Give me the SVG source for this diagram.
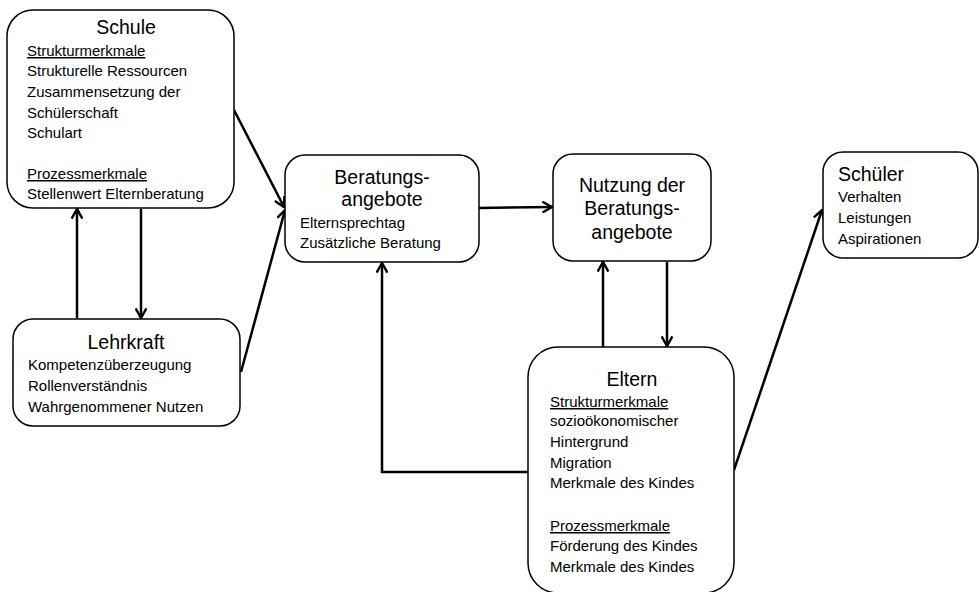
<svg xmlns="http://www.w3.org/2000/svg" width="979" height="592" viewBox="0 0 979 592">
<style>
.box{fill:#fff;stroke:#000;stroke-width:1.5}
.t{font-family:"Liberation Sans",Arial,sans-serif;font-size:15px;fill:#000}
.h{font-family:"Liberation Sans",Arial,sans-serif;font-size:19.5px;fill:#000}
.u{text-decoration:underline}
.c{fill:none;stroke:#000;stroke-width:2.5}
</style>
<defs>
<marker id="ar" markerWidth="12" markerHeight="12" refX="9" refY="5" orient="auto" markerUnits="userSpaceOnUse" viewBox="0 0 10 10">
<path d="M1,0.5 L9,5 L1,9.5" fill="none" stroke="#000" stroke-width="2"/>
</marker>
</defs>
<g id="connectors">
<line class="c" x1="234" y1="110" x2="284" y2="207" marker-end="url(#ar)"/>
<line class="c" x1="241" y1="372" x2="285" y2="210" marker-end="url(#ar)"/>
<line class="c" x1="77" y1="318" x2="77" y2="209" marker-end="url(#ar)"/>
<line class="c" x1="141" y1="209" x2="141" y2="318" marker-end="url(#ar)"/>
<line class="c" x1="479" y1="208" x2="552" y2="207" marker-end="url(#ar)"/>
<line class="c" x1="603" y1="347" x2="603" y2="262" marker-end="url(#ar)"/>
<line class="c" x1="667" y1="262" x2="667" y2="346" marker-end="url(#ar)"/>
<polyline class="c" points="528,472 382,472 382,263" marker-end="url(#ar)"/>
<line class="c" x1="734" y1="470" x2="822" y2="210" marker-end="url(#ar)"/>
</g>
<g id="schule">
<rect class="box" x="7" y="10" width="227" height="198" rx="26"/>
<text class="h" x="126" y="34" text-anchor="middle">Schule</text>
<text class="t u" x="27" y="56">Strukturmerkmale</text>
<text class="t" x="27" y="76">Strukturelle Ressourcen</text>
<text class="t" x="27" y="97">Zusammensetzung der</text>
<text class="t" x="27" y="118">Schülerschaft</text>
<text class="t" x="27" y="138">Schulart</text>
<text class="t u" x="27" y="179">Prozessmerkmale</text>
<text class="t" x="27" y="199">Stellenwert Elternberatung</text>
</g>
<g id="lehrkraft">
<rect class="box" x="13" y="319" width="227" height="107" rx="20"/>
<text class="h" x="126" y="349" text-anchor="middle">Lehrkraft</text>
<text class="t" x="28" y="370">Kompetenzüberzeugung</text>
<text class="t" x="28" y="391">Rollenverständnis</text>
<text class="t" x="28" y="412">Wahrgenommener Nutzen</text>
</g>
<g id="beratungsangebote">
<rect class="box" x="285" y="155" width="194" height="107" rx="20"/>
<text class="h" x="382" y="184" text-anchor="middle">Beratungs-</text>
<text class="h" x="382" y="206" text-anchor="middle">angebote</text>
<text class="t" x="300" y="228">Elternsprechtag</text>
<text class="t" x="300" y="248">Zusätzliche Beratung</text>
</g>
<g id="nutzung">
<rect class="box" x="553" y="154" width="158" height="107" rx="20"/>
<text class="h" x="632" y="192" text-anchor="middle">Nutzung der</text>
<text class="h" x="632" y="215" text-anchor="middle">Beratungs-</text>
<text class="h" x="632" y="239" text-anchor="middle">angebote</text>
</g>
<g id="eltern">
<rect class="box" x="528" y="347" width="206" height="246" rx="30"/>
<text class="h" x="632" y="386" text-anchor="middle">Eltern</text>
<text class="t u" x="550" y="407">Strukturmerkmale</text>
<text class="t" x="550" y="426">sozioökonomischer</text>
<text class="t" x="550" y="447">Hintergrund</text>
<text class="t" x="550" y="468">Migration</text>
<text class="t" x="550" y="488">Merkmale des Kindes</text>
<text class="t u" x="550" y="531">Prozessmerkmale</text>
<text class="t" x="550" y="551">Förderung des Kindes</text>
<text class="t" x="550" y="572">Merkmale des Kindes</text>
</g>
<g id="schueler">
<rect class="box" x="823" y="152" width="155" height="106" rx="20"/>
<text class="h" x="838" y="181">Schüler</text>
<text class="t" x="838" y="202">Verhalten</text>
<text class="t" x="838" y="223">Leistungen</text>
<text class="t" x="838" y="244">Aspirationen</text>
</g>
</svg>
